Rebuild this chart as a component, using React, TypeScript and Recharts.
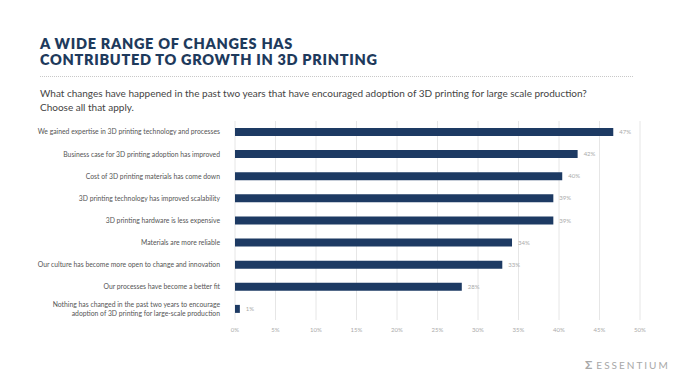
import React from "react";
import { BarChart, Bar, XAxis, YAxis, CartesianGrid, LabelList } from "recharts";

// Survey answers, top to bottom
const categories = [
  "We gained expertise in 3D printing technology and processes",
  "Business case for 3D printing adoption has improved",
  "Cost of 3D printing materials has come down",
  "3D printing technology has improved scalability",
  "3D printing hardware is less expensive",
  "Materials are more reliable",
  "Our culture has become more open to change and innovation",
  "Our processes have become a better fit",
  "Nothing has changed in the past two years to encourage\nadoption of 3D printing for large-scale production",
];
const shares = [46.7, 42.3, 40.4, 39.3, 39.3, 34.2, 33.0, 28.0, 0.6];
const valueLabels = ["47%", "42%", "40%", "39%", "39%", "34%", "33%", "28%", "1%"];
const xTicks = [0, 5, 10, 15, 20, 25, 30, 35, 40, 45, 50];

const data = categories.map((name, i) => ({ name, value: shares[i], label: valueLabels[i] }));

const NAVY = "#1d3a63";
const FONT = "Lato, 'Open Sans', sans-serif";

const CategoryTick = (props: any) => {
  const { x, y, payload } = props;
  const lines = String(payload.value).split("\n");
  const start = -((lines.length - 1) * 9) / 2;
  return (
    <text x={x - 7} y={y} textAnchor="end" fill="#555" fontSize={6.8} fontFamily={FONT}>
      {lines.map((l, i) => (
        <tspan key={i} x={x - 7} dy={i === 0 ? start + 2.4 : 9}>
          {l}
        </tspan>
      ))}
    </text>
  );
};

export default function App() {
  return (
    <div style={{ position: "absolute", left: 0, top: 0, width: 675, height: 380, background: "#fff", fontFamily: FONT, overflow: "hidden" }}>
      <div style={{ position: "absolute", left: 40, top: 36, color: "#1e3a5c", fontWeight: 800, fontSize: 14.5, letterSpacing: 0.7, lineHeight: "15.5px" }}>
        A WIDE RANGE OF CHANGES HAS
        <br />
        CONTRIBUTED TO GROWTH IN 3D PRINTING
      </div>
      <div style={{ position: "absolute", left: 40, top: 76, width: 593, borderTop: "1px dotted #c8c8c8" }} />
      <div style={{ position: "absolute", left: 40, top: 87, color: "#444", fontWeight: 400, fontSize: 10, lineHeight: "13.5px" }}>
        What changes have happened in the past two years that have encouraged adoption of 3D printing for large scale production?
        <br />
        Choose all that apply.
      </div>
      <div style={{ position: "absolute", top: 0, left: 0 }}>
        <BarChart
          width={675}
          height={380}
          data={data}
          layout="vertical"
          margin={{ top: 121, right: 35, left: 0, bottom: 40 }}
          barCategoryGap={7}
        >
          <CartesianGrid horizontal={false} stroke="#e6e6e6" />
          <XAxis
            type="number"
            domain={[0, 50]}
            ticks={xTicks}
            tickFormatter={(v) => `${v}%`}
            axisLine={false}
            tickLine={false}
            height={20}
            tick={{ fontSize: 6, fill: "#aaa", fontFamily: FONT }}
          />
          <YAxis
            type="category"
            dataKey="name"
            width={235}
            axisLine={false}
            tickLine={false}
            interval={0}
            tick={<CategoryTick />}
          />
          <Bar dataKey="value" fill={NAVY} barSize={8} isAnimationActive={false}>
            <LabelList dataKey="label" position="right" offset={6} fill="#aaa" fontSize={6} fontFamily={FONT} />
          </Bar>
        </BarChart>
      </div>
      <div style={{ position: "absolute", left: 585, top: 357, color: "#a8a8a8", fontSize: 10, letterSpacing: 2, whiteSpace: "nowrap" }}>
        <span style={{ fontWeight: 700, fontSize: 12, marginRight: 2 }}>Σ</span>ESSENTIUM
      </div>
    </div>
  );
}
